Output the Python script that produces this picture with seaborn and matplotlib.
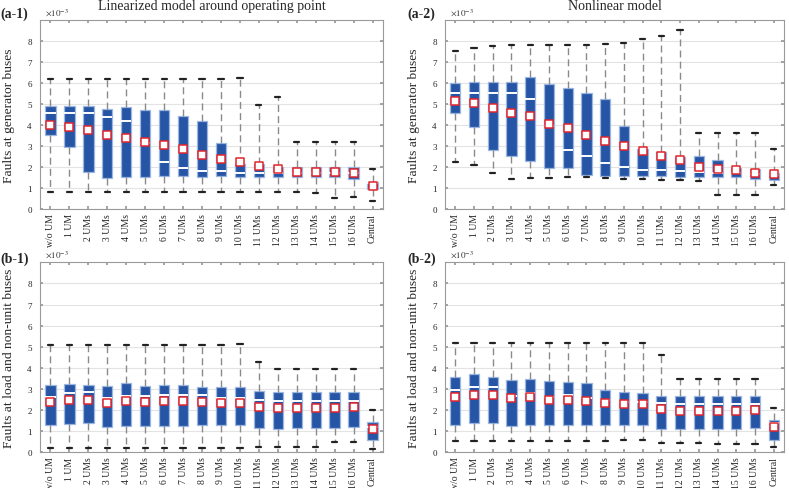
import numpy as np
import pandas as pd
import matplotlib
matplotlib.use("Agg")
import matplotlib.pyplot as plt
import seaborn as sns

categories = ["w/o UM", "1 UM"] + [f"{i} UMs" for i in range(2, 17)] + ["Central"]

# (a-1) linearized model, generator buses (x1e-3)
lin_gen_min = [0.8, 0.8, 0.8, 0.8, 0.8, 0.8, 0.8, 0.8, 0.8, 0.8, 0.8, 0.8, 0.8, 0.8, 0.75, 0.53, 0.57, 0.36]
lin_gen_q1 = [3.5, 2.94, 1.78, 1.48, 1.5, 1.52, 1.55, 1.55, 1.52, 1.55, 1.5, 1.5, 1.5, 1.5, 1.5, 1.5, 1.42, 0.97]
lin_gen_med = [4.55, 4.58, 4.55, 4.37, 4.17, 3.15, 2.25, 1.95, 1.8, 1.8, 1.72, 1.72, 1.72, 1.72, 1.72, 1.72, 1.72, 1.25]
lin_gen_q3 = [4.9, 4.92, 4.88, 4.77, 4.85, 4.72, 4.72, 4.42, 4.2, 3.15, 2.15, 2.12, 2.0, 2.0, 2.0, 2.0, 2.0, 1.3]
lin_gen_max = [6.2, 6.2, 6.2, 6.2, 6.2, 6.2, 6.2, 6.2, 6.2, 6.2, 6.25, 4.93, 5.32, 3.18, 3.18, 3.18, 3.18, 1.9]
lin_gen_mean = [4.0, 3.92, 3.75, 3.52, 3.4, 3.17, 3.05, 2.84, 2.57, 2.4, 2.26, 2.07, 1.9, 1.77, 1.76, 1.75, 1.73, 1.1]

# (a-2) nonlinear model, generator buses
nl_gen_min = [2.26, 2.08, 1.7, 1.43, 1.47, 1.48, 1.5, 1.52, 1.47, 1.45, 1.45, 1.38, 1.37, 1.35, 0.65, 0.65, 0.65, 1.15]
nl_gen_q1 = [4.57, 3.92, 2.81, 2.52, 2.27, 1.94, 1.95, 1.63, 1.57, 1.57, 1.55, 1.55, 1.53, 1.53, 1.5, 1.5, 1.45, 1.38]
nl_gen_med = [5.5, 5.53, 5.5, 5.52, 5.24, 3.93, 2.82, 2.52, 2.19, 1.98, 1.85, 1.85, 1.82, 1.77, 1.7, 1.72, 1.65, 1.6]
nl_gen_q3 = [5.98, 6.03, 6.05, 6.05, 6.3, 5.97, 5.78, 5.5, 5.25, 3.96, 2.85, 2.69, 2.47, 2.52, 2.35, 1.97, 1.9, 1.72]
nl_gen_max = [7.54, 7.66, 7.75, 7.8, 7.8, 7.82, 7.82, 7.82, 7.87, 7.9, 8.08, 8.24, 8.54, 3.6, 3.6, 3.6, 3.6, 2.87]
nl_gen_mean = [5.14, 5.03, 4.83, 4.56, 4.43, 4.05, 3.84, 3.54, 3.22, 2.98, 2.78, 2.54, 2.32, 2.02, 1.92, 1.87, 1.73, 1.65]

# (b-1) linearized model, load and non-unit buses
lin_load_min = [0.22] * 11 + [0.25, 0.25, 0.25, 0.27, 0.47, 0.5, 0.15]
lin_load_q1 = [1.29, 1.35, 1.38, 1.22, 1.25, 1.25, 1.25, 1.25, 1.27, 1.27, 1.27, 1.15, 1.12, 1.13, 1.13, 1.13, 1.18, 0.58]
lin_load_med = [2.62, 2.83, 2.85, 2.55, 2.65, 2.65, 2.72, 2.7, 2.7, 2.55, 2.57, 2.48, 2.43, 2.43, 2.43, 2.43, 2.43, 1.2]
lin_load_q3 = [3.19, 3.23, 3.2, 3.12, 3.27, 3.12, 3.2, 3.17, 3.1, 3.07, 3.07, 2.9, 2.87, 2.87, 2.87, 2.87, 2.87, 1.45]
lin_load_max = [5.07] * 10 + [5.15, 4.27, 3.95, 3.95, 3.95, 3.95, 3.95, 1.98]
lin_load_mean = [2.37, 2.46, 2.46, 2.35, 2.42, 2.38, 2.42, 2.42, 2.37, 2.32, 2.33, 2.15, 2.08, 2.08, 2.08, 2.1, 2.13, 1.08]

# (b-2) nonlinear model, load and non-unit buses
nl_load_min = [0.55] * 9 + [0.57, 0.57, 0.45, 0.45, 0.45, 0.4, 0.4, 0.4, 0.25]
nl_load_q1 = [1.3, 1.38, 1.4, 1.25, 1.27, 1.27, 1.27, 1.27, 1.27, 1.27, 1.27, 1.12, 1.08, 1.1, 1.1, 1.1, 1.15, 0.6]
nl_load_med = [2.97, 3.1, 3.1, 2.65, 2.8, 2.62, 2.7, 2.55, 2.48, 2.37, 2.37, 2.32, 2.3, 2.3, 2.3, 2.3, 2.3, 1.4]
nl_load_q3 = [3.59, 3.7, 3.55, 3.42, 3.47, 3.38, 3.33, 3.27, 2.97, 2.87, 2.82, 2.67, 2.65, 2.65, 2.65, 2.65, 2.65, 1.52]
nl_load_max = [5.18] * 9 + [5.2, 5.2, 4.6, 3.48, 3.48, 3.48, 3.48, 3.48, 2.1]
nl_load_mean = [2.63, 2.73, 2.7, 2.55, 2.6, 2.5, 2.48, 2.45, 2.35, 2.27, 2.27, 2.05, 1.97, 1.97, 1.97, 1.97, 2.0, 1.18]

sns.set_theme(style="white")
plt.rcParams["font.family"] = ["Liberation Serif", "DejaVu Serif"]
plt.rcParams["mathtext.fontset"] = "stix"

BOX_BLUE = "#2755a5"
EDGE_BLUE = "#9ab6e2"


def five_point_frame(mins, q1s, meds, q3s, maxs):
    # five values per group reproduce the quartiles exactly with linear percentiles
    rows = []
    for cat, a, b, c, d, e in zip(categories, mins, q1s, meds, q3s, maxs):
        for v in (a, b, c, d, e):
            rows.append({"group": cat, "value": v})
    return pd.DataFrame(rows)


def draw_panel(ax, stats, means, ylabel):
    df = five_point_frame(*stats)
    sns.boxplot(data=df, x="group", y="value", order=categories, ax=ax,
                whis=(0, 100), width=0.55, showfliers=False,
                color=BOX_BLUE, saturation=1, linecolor=EDGE_BLUE, linewidth=0.9,
                whiskerprops=dict(color="#8a8a8a", linestyle=(0, (5, 3)), linewidth=1.0),
                capprops=dict(color="#222222", linewidth=1.6),
                medianprops=dict(color="white", linewidth=1.4),
                boxprops=dict(edgecolor=EDGE_BLUE, zorder=2))
    mdf = pd.DataFrame({"group": categories, "mean": means})
    sns.scatterplot(data=mdf, x="group", y="mean", ax=ax, marker="s", s=26,
                    color="white", edgecolor="#e3262b", linewidth=1.1, zorder=5)
    ax.set_xlim(-0.55, 17.55)
    ax.set_ylim(0, 9)
    ax.set_yticks(range(0, 9))
    ax.yaxis.grid(True, color="#e3e3e3", linewidth=0.8)
    ax.set_axisbelow(True)
    ax.set_xlabel("")
    ax.set_ylabel(ylabel, fontsize=9.7, labelpad=9)
    ax.tick_params(axis="x", labelrotation=90, labelsize=7, direction="in",
                   top=True, bottom=True, length=2, color="#999999", pad=3)
    ax.tick_params(axis="y", labelsize=6.5, direction="in", left=True,
                   right=True, length=2, color="#999999", pad=6)
    for s in ax.spines.values():
        s.set_color("#9a9a9a")
        s.set_linewidth(0.8)
    ax.text(0.015, 1.015, r"$\times10^{-3}$", transform=ax.transAxes,
            fontsize=6.5, ha="left", va="bottom", color="#333333")


fig = plt.figure(figsize=(7.89, 4.89), dpi=100)
ax1 = fig.add_axes([0.0507, 0.5706, 0.4347, 0.3865])
ax2 = fig.add_axes([0.5640, 0.5706, 0.4297, 0.3865])
ax3 = fig.add_axes([0.0507, 0.0730, 0.4347, 0.3886])
ax4 = fig.add_axes([0.5640, 0.0730, 0.4297, 0.3886])

draw_panel(ax1, (lin_gen_min, lin_gen_q1, lin_gen_med, lin_gen_q3, lin_gen_max),
           lin_gen_mean, "Faults at generator buses")
draw_panel(ax2, (nl_gen_min, nl_gen_q1, nl_gen_med, nl_gen_q3, nl_gen_max),
           nl_gen_mean, "Faults at generator buses")
draw_panel(ax3, (lin_load_min, lin_load_q1, lin_load_med, lin_load_q3, lin_load_max),
           lin_load_mean, "Faults at load and non-unit buses")
draw_panel(ax4, (nl_load_min, nl_load_q1, nl_load_med, nl_load_q3, nl_load_max),
           nl_load_mean, "Faults at load and non-unit buses")

ax1.set_title("Linearized model around operating point", fontsize=10, pad=8)
ax2.set_title("Nonlinear model", fontsize=10, pad=8)

for txt, x, y in [("(a-1)", 0.001, 0.985), ("(a-2)", 0.516, 0.985),
                  ("(b-1)", 0.001, 0.483), ("(b-2)", 0.516, 0.483)]:
    fig.text(x, y, txt, fontsize=10, fontweight="bold", ha="left", va="top")

fig.savefig("out.png", dpi=100)
